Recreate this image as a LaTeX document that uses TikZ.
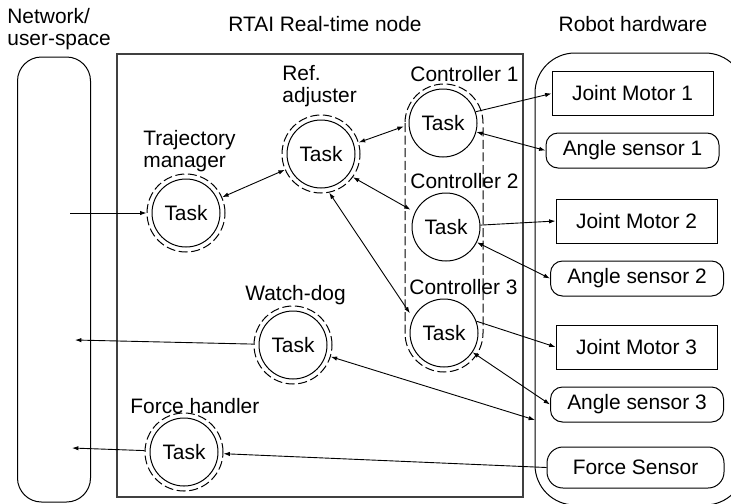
\documentclass[tikz,border=0pt]{standalone}
\usepackage{fontspec}
\setmainfont{Liberation Sans}
\usetikzlibrary{arrows.meta}

\tikzset{
	task/.style={circle, draw, line width=0.5pt, minimum size=34pt, inner sep=0pt},
	ring/.style={circle, draw, line width=0.5pt, dash pattern=on 4.5pt off 1.8pt, minimum size=39pt, inner sep=0pt},
	hidring/.style={circle, minimum size=39pt, inner sep=0pt},
	motor/.style={draw, line width=0.5pt, minimum width=80.5pt, minimum height=22pt, inner sep=0pt},
	sensor/.style={draw, line width=0.5pt, rounded corners=6pt, minimum width=86.5pt, minimum height=17.5pt, inner sep=0pt},
	lbl/.style={anchor=west, inner sep=0pt, align=left},
	arr/.style={line width=0.45pt, -{Latex[length=3.2pt,width=2.2pt]}},
	darr/.style={line width=0.45pt, {Latex[length=3.2pt,width=2.2pt]}-{Latex[length=3.2pt,width=2.2pt]}}
}

\begin{document}
\begin{tikzpicture}[x=0.5pt, y=-0.5pt, font=\fontsize{10.45}{11}\selectfont]
			%%%%% START %%%%%
			\useasboundingbox (0,0) rectangle (731,503);
			
			\node[draw, line width=0.5pt, rounded corners=12pt, minimum width=36.5pt, minimum height=222.5pt] (net) at (54,279.5) {};
			\node[draw, line width=0.7pt, color=black!75, minimum width=203pt, minimum height=221.5pt] (rtai) at (320,275.5) {};
			\node[draw, line width=0.5pt, rounded corners=20pt, minimum width=105pt, minimum height=226pt] (hw) at (640,279) {};
			
			\node[lbl] (nettitle) at (7,29) {Network/\\user-space};
			\node[inner sep=0pt] (rtaititle) at (325,24) {RTAI Real-time node};
			\node[inner sep=0pt] (hwtitle) at (633,24) {Robot hardware};
			
			\node[task] (traj) at (186,213) {Task};
			\node[ring] (trajR) at (traj) {};
			\node[task] (ref) at (321,154) {Task};
			\node[ring] (refR) at (ref) {};
			\node[task] (wd) at (293,345) {Task};
			\node[ring] (wdR) at (wd) {};
			\node[task] (fh) at (184,452) {Task};
			\node[ring] (fhR) at (fh) {};
			
			\node[task] (ctrlA) at (443,123) {Task};
			\node[hidring] (ctrlAR) at (ctrlA) {};
			\node[task] (ctrlB) at (446,227) {Task};
			\node[hidring] (ctrlBR) at (ctrlB) {};
			\node[task] (ctrlC) at (444,333) {Task};
			\node[hidring] (ctrlCR) at (ctrlC) {};
			\draw[line width=0.5pt, dash pattern=on 4.5pt off 1.8pt, rounded corners=19.5pt] (405,84) rectangle (483,372);
			
			\node[lbl] (trajlbl) at (143,151) {Trajectory\\manager};
			\node[lbl] (reflbl) at (282,86) {Ref.\\adjuster};
			\node[lbl] (ctrlAlbl) at (410,74) {Controller 1};
			\node[lbl] (ctrlBlbl) at (410,181) {Controller 2};
			\node[lbl] (ctrlClbl) at (409,287) {Controller 3};
			\node[lbl] (wdlbl) at (245,295) {Watch-dog};
			\node[lbl] (fhlbl) at (130,406) {Force handler};
			
			\node[motor] (jmA) at (632.5,93.5) {Joint Motor 1};
			\node[sensor] (asA) at (632.5,150.5) {Angle sensor 1};
			\node[motor] (jmB) at (636.5,221) {Joint Motor 2};
			\node[sensor] (asB) at (637,278.5) {Angle sensor 2};
			\node[motor] (jmC) at (636.5,347) {Joint Motor 3};
			\node[sensor] (asC) at (637,404.5) {Angle sensor 3};
			\node[sensor, minimum width=88.5pt, minimum height=20.5pt, rounded corners=8pt] (fs) at (635.5,467.5) {Force Sensor};
			
			\coordinate (netT) at (70,213);
			\coordinate (netW) at (75,340);
			\coordinate (netF) at (72,448);
			\coordinate (hwW) at (535,420);
			
			\draw[arr] (netT) -- (trajR);
			\draw[darr] (trajR) -- (refR);
			\draw[darr] (refR.17) -- (ctrlAR.185);
			\draw[darr] (refR.-36) -- (ctrlBR.154);
			\draw[darr] (refR.-78) -- (ctrlCR.150);
			
			\draw[arr] (ctrlA.19) -- (jmA.west);
			\draw[darr] (ctrlA) -- (asA.west);
			\draw[arr] (ctrlB) -- (jmB.west);
			\draw[darr] (ctrlB) -- (asB.west);
			\draw[arr] (ctrlC.20) -- (jmC.west);
			\draw[darr] (ctrlC) -- (asC.west);
			
			\draw[arr] (wdR) -- (netW);
			\draw[darr] (wdR) -- (hwW);
			\draw[arr] (fs.west) -- (fhR);
			\draw[arr] (fhR) -- (netF);
			
			%%%%% END %%%%%
\end{tikzpicture}
\end{document}
